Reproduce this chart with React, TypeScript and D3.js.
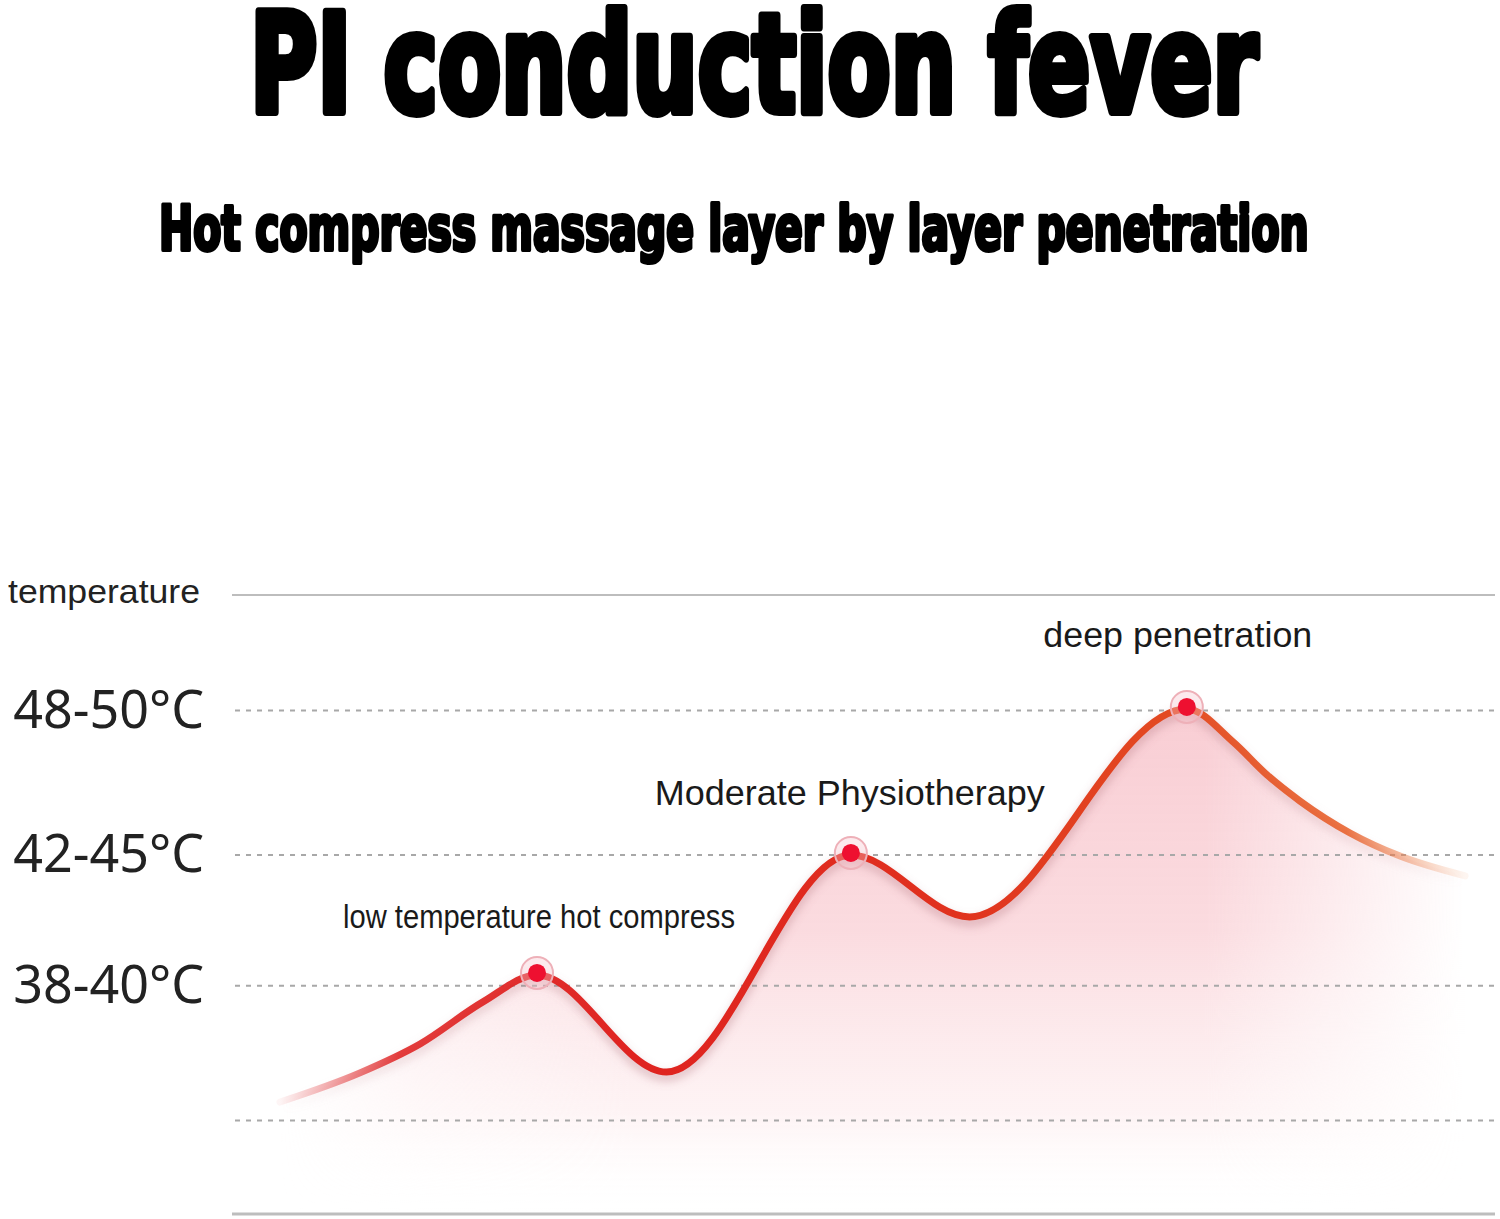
import React, { useLayoutEffect, useRef, useState } from "react";
import * as d3 from "d3";

// ---- data ----
const title = "PI conduction fever";
const subtitle = "Hot compress massage layer by layer penetration";
const axisTitle = "temperature";

const tickLabels = ["48-50°C", "42-45°C", "38-40°C"];
const tickValues = [49, 43.75, 39];
const dashedGrid = [49, 43.75, 39, 34.1];
const solidGrid = [53.2, 30.7];

// curve samples: step (0-100) and temperature (°C)
const curveSteps = [3.8, 10.13, 14.89, 19.87, 24.15, 34.4, 49.0, 58.4, 75.6, 79.26, 81.95, 84.56, 88.52, 92.48, 97.63];
const curveTemps = [34.77, 35.83, 36.88, 38.41, 39.39, 35.86, 43.75, 41.5, 49.06, 47.86, 46.66, 45.71, 44.55, 43.71, 42.99];

const peakIndices = [4, 6, 8];
const peakLabels = ["low temperature hot compress", "Moderate Physiotherapy", "deep penetration"];

// ---- layout ----
const W = 1500;
const H = 1219;
const plotLeft = 232;
const plotRight = 1495;
const plotTop = 595;
const plotBottom = 1214;

const x = d3.scaleLinear().domain([0, 100]).range([plotLeft, plotRight]);
const y = d3.scaleLinear().domain([30.7, 53.2]).range([plotBottom, plotTop]);

const pts: [number, number][] = curveSteps.map((s, i) => [s, curveTemps[i]]);

const lineGen = d3
  .line<[number, number]>()
  .x((d) => x(d[0]))
  .y((d) => y(d[1]))
  .curve(d3.curveMonotoneX);

const areaGen = d3
  .area<[number, number]>()
  .x((d) => x(d[0]))
  .y0(plotBottom)
  .y1((d) => y(d[1]))
  .curve(d3.curveMonotoneX);

const labelFont = "'Liberation Sans', Arial, sans-serif";
const tickFont = "'Noto Sans', 'Open Sans', sans-serif";
const titleFont = "'Liberation Sans Narrow', 'DejaVu Sans Condensed', 'DejaVu Sans', sans-serif";

const labelOffsets = [47, 50, 62];
const labelDx = [2, -1, -9];
const labelLengths = [392, 390, 269];
const labelSizes = [33, 35, 35];

function FitText(props: {
  x: number;
  y: number;
  width: number;
  fontSize: number;
  strokeWidth: number;
  children: string;
}) {
  const ref = useRef<SVGTextElement>(null);
  const [sx, setSx] = useState(1);
  useLayoutEffect(() => {
    if (ref.current) {
      const w = ref.current.getComputedTextLength();
      if (w > 0) setSx(props.width / w);
    }
  }, [props.width, props.children]);
  return (
    <text
      ref={ref}
      x={0}
      y={0}
      transform={`translate(${props.x},${props.y}) scale(${sx},1)`}
      fontFamily={titleFont}
      fontWeight="bold"
      fontSize={props.fontSize}
      fill="#000"
      stroke="#000"
      strokeWidth={props.strokeWidth}
      strokeLinejoin="round"
    >
      {props.children}
    </text>
  );
}

export default function App() {
  const linePath = lineGen(pts) || "";
  const areaPath = areaGen(pts) || "";
  const xStart = x(curveSteps[0]);
  const xEnd = x(curveSteps[curveSteps.length - 1]);

  return (
    <svg
      width={W}
      height={H}
      viewBox={`0 0 ${W} ${H}`}
      style={{ position: "absolute", left: 0, top: 0, display: "block", background: "#fff" }}
    >
      <defs>
        <linearGradient id="lineGrad" gradientUnits="userSpaceOnUse" x1={xStart} x2={xEnd} y1={0} y2={0}>
          <stop offset="0" stopColor="#e23a3f" stopOpacity={0.05} />
          <stop offset="0.1" stopColor="#e02828" stopOpacity={0.9} />
          <stop offset="0.3" stopColor="#df2320" stopOpacity={1} />
          <stop offset="0.55" stopColor="#e0301e" stopOpacity={1} />
          <stop offset="0.75" stopColor="#e34a22" stopOpacity={1} />
          <stop offset="0.9" stopColor="#e86430" stopOpacity={0.9} />
          <stop offset="1" stopColor="#f2a070" stopOpacity={0.1} />
        </linearGradient>
        <linearGradient id="areaGrad" gradientUnits="userSpaceOnUse" x1={0} x2={0} y1={700} y2={1215}>
          <stop offset="0" stopColor="#f7c0c8" stopOpacity={0.8} />
          <stop offset="0.45" stopColor="#f9ccd2" stopOpacity={0.7} />
          <stop offset="0.8" stopColor="#fbdde0" stopOpacity={0.35} />
          <stop offset="1" stopColor="#ffffff" stopOpacity={0} />
        </linearGradient>
        <linearGradient id="maskGrad" gradientUnits="userSpaceOnUse" x1={xStart} x2={xEnd} y1={0} y2={0}>
          <stop offset="0" stopColor="#000" />
          <stop offset="0.12" stopColor="#999" />
          <stop offset="0.3" stopColor="#fff" />
          <stop offset="0.78" stopColor="#fff" />
          <stop offset="1" stopColor="#000" />
        </linearGradient>
        <mask id="areaMask" maskUnits="userSpaceOnUse" x={0} y={0} width={W} height={H}>
          <rect x={0} y={0} width={W} height={H} fill="url(#maskGrad)" />
        </mask>
        <filter id="shadow" x="-10%" y="-10%" width="120%" height="130%">
          <feGaussianBlur stdDeviation="4" />
        </filter>
      </defs>

      {/* titles */}
      <FitText x={250} y={112} width={1008} fontSize={138} strokeWidth={8}>
        {title}
      </FitText>
      <FitText x={159} y={250} width={1150} fontSize={62} strokeWidth={4}>
        {subtitle}
      </FitText>

      {/* area under curve */}
      <path d={areaPath} fill="url(#areaGrad)" mask="url(#areaMask)" />

      {/* grid */}
      {solidGrid.map((v, i) => (
        <line
          key={"s" + i}
          x1={plotLeft}
          x2={plotRight}
          y1={y(v)}
          y2={y(v)}
          stroke="#bdbdbd"
          strokeWidth={i === 0 ? 2 : 3}
        />
      ))}
      {dashedGrid.map((v, i) => (
        <line
          key={"d" + i}
          x1={plotLeft + 3}
          x2={plotRight}
          y1={y(v)}
          y2={y(v)}
          stroke="#a8a8a8"
          strokeWidth={2}
          strokeDasharray="5 6"
        />
      ))}

      {/* axis title & tick labels */}
      <text x={8} y={603} fontFamily={labelFont} fontSize={33} fill="#222" textLength={192} lengthAdjust="spacingAndGlyphs">
        {axisTitle}
      </text>
      {tickLabels.map((t, i) => (
        <text
          key={t}
          x={204}
          y={y(tickValues[i]) + 17}
          textAnchor="end"
          fontFamily={tickFont}
          fontSize={52}
          fill="#222"
        >
          {t}
        </text>
      ))}

      {/* shadow of line */}
      <path
        d={linePath}
        fill="none"
        stroke="#b07078"
        strokeOpacity={0.35}
        strokeWidth={9}
        transform="translate(0,5)"
        filter="url(#shadow)"
        mask="url(#areaMask)"
      />
      {/* line */}
      <path d={linePath} fill="none" stroke="url(#lineGrad)" strokeWidth={7} strokeLinecap="round" />

      {/* peaks */}
      {peakIndices.map((pi, i) => {
        const cx = x(curveSteps[pi]);
        const cy = y(curveTemps[pi]) - 2;
        return (
          <g key={"p" + i}>
            <circle cx={cx} cy={cy} r={16} fill="#f6c4ca" fillOpacity={0.35} stroke="#eeb0b8" strokeWidth={2} />
            <circle cx={cx} cy={cy} r={9} fill="#ee1030" />
          </g>
        );
      })}

      {/* annotations */}
      {peakIndices.map((pi, i) => (
        <text
          key={"a" + i}
          x={x(curveSteps[pi]) + labelDx[i]}
          y={y(curveTemps[pi]) - labelOffsets[i]}
          textAnchor="middle"
          fontFamily={labelFont}
          fontSize={labelSizes[i]}
          fill="#1a1a1a"
          textLength={labelLengths[i]}
          lengthAdjust="spacingAndGlyphs"
        >
          {peakLabels[i]}
        </text>
      ))}
    </svg>
  );
}
